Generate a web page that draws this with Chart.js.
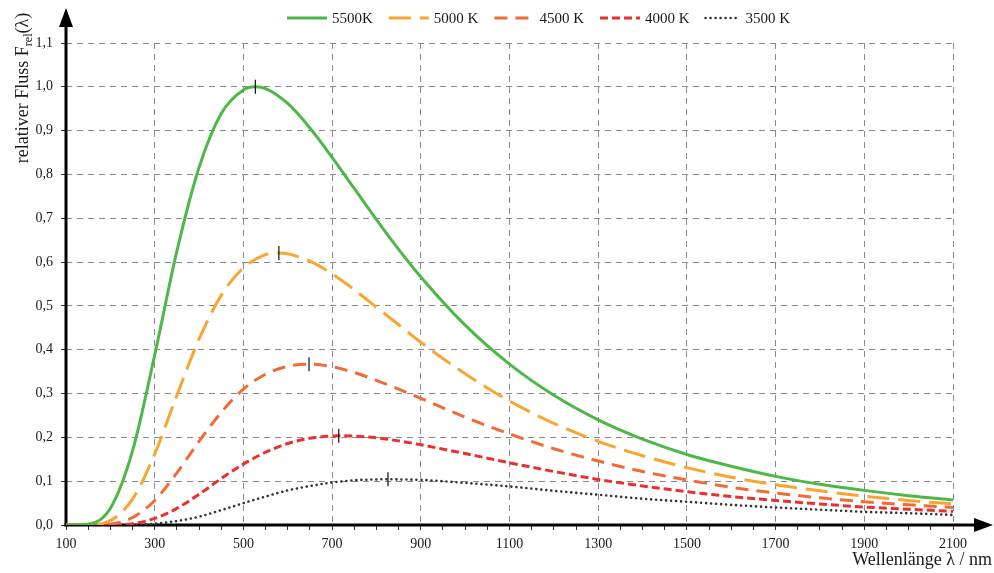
<!DOCTYPE html>
<html>
<head>
<meta charset="utf-8">
<script src="https://cdn.jsdelivr.net/npm/chart.js@4.4.0/dist/chart.umd.min.js"></script>
<style>
  html, body { margin: 0; padding: 0; background: #fff; }
  #wrap { width: 994px; height: 573px; position: relative; }
</style>
</head>
<body>
<div id="wrap"><canvas id="planckChart"></canvas></div>
<script>
// wavelength in nm
const wavelengths = [100, 150, 200, 250, 300, 350, 400, 450, 500, 550, 600, 650, 700, 750, 800, 850, 900,
  1000, 1100, 1200, 1300, 1400, 1500, 1600, 1700, 1800, 1900, 2000, 2100];

// relative flux
const flux5500 = [0, 0.002, 0.038, 0.169, 0.388, 0.625, 0.816, 0.939, 0.993, 0.996, 0.962, 0.906, 0.839, 0.768, 0.697, 0.629, 0.566,
  0.456, 0.367, 0.296, 0.240, 0.196, 0.161, 0.134, 0.111, 0.093, 0.079, 0.067, 0.057];
const flux5000 = [0, 0.0004, 0.010, 0.059, 0.162, 0.296, 0.424, 0.524, 0.587, 0.617, 0.619, 0.602, 0.573, 0.537, 0.497, 0.457, 0.417,
  0.345, 0.283, 0.232, 0.191, 0.158, 0.131, 0.109, 0.092, 0.078, 0.066, 0.056, 0.048];
const flux4500 = [0, 0, 0.002, 0.017, 0.056, 0.119, 0.191, 0.257, 0.310, 0.344, 0.362, 0.367, 0.361, 0.348, 0.330, 0.310, 0.289,
  0.246, 0.208, 0.174, 0.146, 0.122, 0.103, 0.086, 0.073, 0.062, 0.053, 0.046, 0.040];
const flux4000 = [0, 0, 0.0003, 0.003, 0.015, 0.038, 0.070, 0.106, 0.139, 0.166, 0.186, 0.198, 0.203, 0.203, 0.199, 0.192, 0.183,
  0.163, 0.142, 0.122, 0.104, 0.089, 0.076, 0.065, 0.056, 0.048, 0.041, 0.036, 0.031];
const flux3500 = [0, 0, 0, 0.0004, 0.003, 0.009, 0.019, 0.034, 0.050, 0.065, 0.079, 0.089, 0.097, 0.102, 0.104, 0.104, 0.103,
  0.096, 0.088, 0.078, 0.069, 0.060, 0.053, 0.046, 0.040, 0.035, 0.030, 0.027, 0.023];

const seriesLabels = ["5500K", "5000 K", "4500 K", "4000 K", "3500 K"];

// maxima, marked with a small vertical tick
const peakWavelengths = [527, 580, 648, 715, 826];
const peakFlux = [1.0, 0.621, 0.367, 0.2035, 0.1045];

const xMin = 100, xMax = 2100, xLabelStep = 200, xMinorStep = 50;
const yMin = 0, yMax = 1.1, yStep = 0.1;

const serif = "'Liberation Serif', 'Times New Roman', serif";
Chart.defaults.font.family = serif;
Chart.defaults.font.size = 14;
Chart.defaults.color = "#1a1a1a";

// curve points plus the maximum, sorted by wavelength
function toPoints(ys, i) {
  const pts = wavelengths.map((x, k) => ({ x: x, y: ys[k] }));
  pts.push({ x: peakWavelengths[i], y: peakFlux[i] });
  return pts.sort((a, b) => a.x - b.x);
}

const styles = [
  { color: "#4db848", dash: [], width: 3, cap: "butt" },
  { color: "#f8a531", dash: [22, 9], width: 3, cap: "butt" },
  { color: "#f26a36", dash: [13, 8], width: 3, cap: "butt" },
  { color: "#e8312f", dash: [8, 4], width: 3, cap: "butt" },
  { color: "#333333", dash: [0.01, 5], width: 2.6, cap: "round" },
];
const allFlux = [flux5500, flux5000, flux4500, flux4000, flux3500];

const datasets = allFlux.map((ys, i) => ({
  label: seriesLabels[i],
  data: toPoints(ys, i),
  borderColor: styles[i].color,
  backgroundColor: styles[i].color,
  borderWidth: styles[i].width,
  borderDash: styles[i].dash,
  borderCapStyle: styles[i].cap,
  pointRadius: 0,
  cubicInterpolationMode: "monotone",
  fill: false,
  order: 1,
}));

datasets.push({
  label: "peaks",
  data: peakWavelengths.map((x, i) => ({ x: x, y: peakFlux[i] })),
  showLine: false,
  pointStyle: "line",
  rotation: 90,
  pointRadius: 7,
  borderColor: "#111",
  borderWidth: 1.2,
  order: 0,
});

// axes with arrow heads, drawn under the curves
const axisArrows = {
  id: "axisArrows",
  beforeDatasetsDraw(chart) {
    const ctx = chart.ctx, a = chart.chartArea;
    ctx.save();
    ctx.strokeStyle = "#000";
    ctx.fillStyle = "#000";
    ctx.lineWidth = 3;
    ctx.beginPath();
    ctx.moveTo(a.left, a.bottom + 1.5);
    ctx.lineTo(a.left, 24);
    ctx.stroke();
    ctx.beginPath();
    ctx.moveTo(a.left, 8);
    ctx.lineTo(a.left - 7, 27);
    ctx.lineTo(a.left + 7, 27);
    ctx.closePath();
    ctx.fill();
    ctx.beginPath();
    ctx.moveTo(a.left - 1.5, a.bottom);
    ctx.lineTo(978, a.bottom);
    ctx.stroke();
    ctx.beginPath();
    ctx.moveTo(993, a.bottom);
    ctx.lineTo(974, a.bottom - 7);
    ctx.lineTo(974, a.bottom + 7);
    ctx.closePath();
    ctx.fill();
    ctx.restore();
  },
};

// legend and axis titles
const labelsPlugin = {
  id: "labelsPlugin",
  afterDraw(chart) {
    const ctx = chart.ctx;
    ctx.save();
    // legend
    ctx.font = "15px " + serif;
    ctx.textBaseline = "middle";
    ctx.textAlign = "left";
    let x = 287;
    const y = 18;
    for (let i = 0; i < seriesLabels.length; i++) {
      const s = styles[i];
      ctx.strokeStyle = s.color;
      ctx.lineWidth = s.width;
      ctx.lineCap = s.cap;
      ctx.setLineDash(s.dash);
      ctx.beginPath();
      ctx.moveTo(x, y);
      ctx.lineTo(x + (i === 4 ? 34 : 40), y);
      ctx.stroke();
      ctx.setLineDash([]);
      ctx.fillStyle = "#1a1a1a";
      const tx = x + (i === 4 ? 40 : 45);
      ctx.fillText(seriesLabels[i], tx, y + 1);
      x = tx + ctx.measureText(seriesLabels[i]).width + 16;
    }

    // x title
    ctx.font = "18px " + serif;
    ctx.textAlign = "right";
    ctx.textBaseline = "alphabetic";
    ctx.fillText("Wellenlänge λ / nm", 992, 565);

    // y title with subscript
    const main = "relativer Fluss F", sub = "rel", tail = "(λ)";
    const big = "18px " + serif, small = "12px " + serif;
    ctx.font = big;
    const w1 = ctx.measureText(main).width;
    const w3 = ctx.measureText(tail).width;
    ctx.font = small;
    const w2 = ctx.measureText(sub).width;
    const total = w1 + w2 + w3;
    ctx.translate(28, 88);
    ctx.rotate(-Math.PI / 2);
    ctx.textAlign = "left";
    let p = -total / 2;
    ctx.font = big;
    ctx.fillText(main, p, 0);
    p += w1;
    ctx.font = small;
    ctx.fillText(sub, p, 4);
    p += w2;
    ctx.font = big;
    ctx.fillText(tail, p, 0);
    ctx.restore();
  },
};

const isMajorX = (v) => (v - xMin) % xLabelStep === 0;

new Chart(document.getElementById("planckChart"), {
  type: "line",
  data: { datasets: datasets },
  options: {
    responsive: true,
    maintainAspectRatio: false,
    animation: false,
    layout: { padding: { top: 43, right: 41, left: 0, bottom: 0 } },
    plugins: {
      legend: { display: false },
      tooltip: { enabled: false },
    },
    scales: {
      x: {
        type: "linear",
        min: xMin,
        max: xMax,
        afterFit(scale) {
          scale.height = 48;
          scale.paddingLeft = 0;
          scale.paddingRight = 0;
        },
        ticks: {
          stepSize: xMinorStep,
          autoSkip: false,
          maxRotation: 0,
          padding: 6,
          callback: (v) => (isMajorX(v) ? String(v) : ""),
        },
        grid: {
          color: (c) => (c.tick && isMajorX(c.tick.value) && c.tick.value > xMin ? "#8a8a8a" : "rgba(0,0,0,0)"),
          tickColor: "#333",
          tickLength: 5,
          lineWidth: 1,
        },
        border: { display: false, dash: [6, 5] },
      },
      y: {
        min: yMin,
        max: yMax,
        afterFit(scale) {
          scale.width = 66;
          scale.paddingTop = 0;
          scale.paddingBottom = 0;
        },
        ticks: {
          stepSize: yStep,
          padding: 8,
          callback: (v) => v.toFixed(1).replace(".", ","),
        },
        grid: {
          color: (c) => (c.tick && c.tick.value > 0.001 ? "#8a8a8a" : "rgba(0,0,0,0)"),
          tickColor: "#333",
          tickLength: 5,
          lineWidth: 1,
        },
        border: { display: false, dash: [6, 5] },
      },
    },
  },
  plugins: [axisArrows, labelsPlugin],
});
</script>
</body>
</html>
